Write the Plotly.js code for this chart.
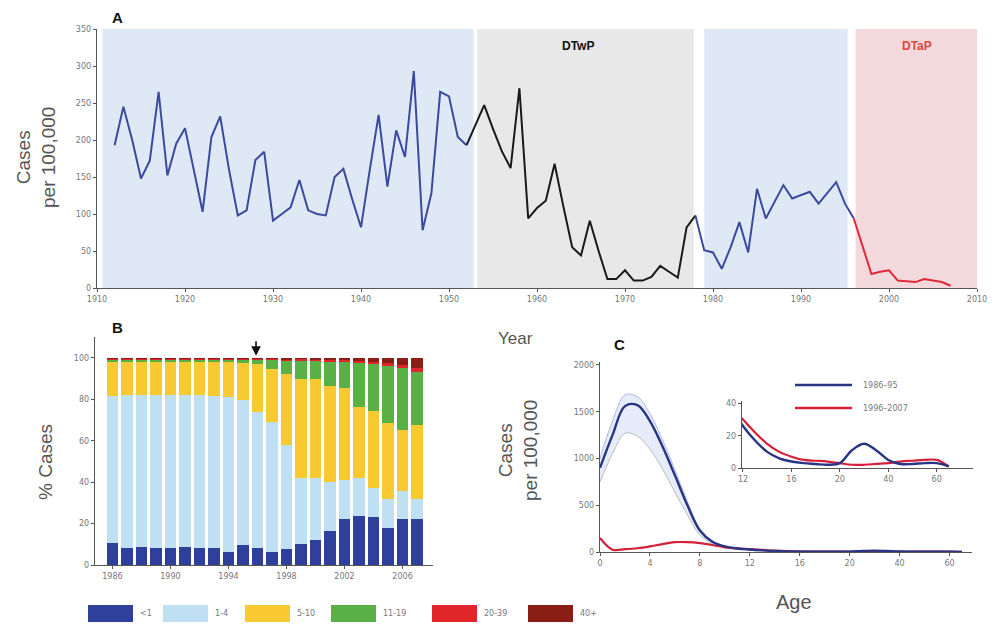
<!DOCTYPE html>
<html><head><meta charset="utf-8">
<script src="https://cdn.plot.ly/plotly-3.0.1.min.js"></script>
<style>html,body{margin:0;padding:0;background:#fff}#chart{width:995px;height:624px}</style>
</head><body><div id="chart"></div>
<script>
// ---------- Panel A data ----------
const yearsA = [];
for (let y = 1912; y <= 2007; y++) yearsA.push(y);
const casesA = [193,245,200,148,172,265,152,195,216,160,103,204,232,160,98,105,173,184,91,100,
  109,146,105,100,98,150,161,120,82,160,234,137,213,177,293,78,128,265,259,204,
  193,220,247,215,185,162,270,94,108,118,168,110,55,44,91,50,12,12,24,10,
  10,15,30,22,14,82,98,51,48,26,55,89,48,134,94,117,139,121,125,130,
  114,128,143,114,94,55,19,22,24,10,9,8,12,10,8,3];
const segmentBreaks = [1952, 1978, 1996];            // years where line colour changes
const segmentColors = ['#3b4a9e', '#1a1a1a', '#3b4a9e', '#e0283a'];
const periodStart = [1910.6, 1953.2, 1979.0, 1996.2];
const periodEnd   = [1952.8, 1977.8, 1995.3, 2010.1];
const periodColors = ['#dfe9f6', '#e8e8e8', '#dfe9f6', '#f3d9dc'];
const periodLabels = ['', 'DTwP', '', 'DTaP'];
const periodLabelColors = ['#111', '#111', '#111', '#e0453f'];
const yTicksA = [0,50,100,150,200,250,300,350];
const xTicksA = [1910,1920,1930,1940,1950,1960,1970,1980,1990,2000,2010];

// ---------- Panel B data ----------
const yearsB = [1986,1987,1988,1989,1990,1991,1992,1993,1994,1995,1996,1997,1998,1999,2000,2001,2002,2003,2004,2005,2006,2007];
const ageLt1  = [10.5,8.4,8.9,8.4,8.4,8.9,8,8,6.5,9.5,8.2,6.2,7.6,10,12,16.5,22,23.5,23,18,22,22];
const age1_4  = [71,73.6,73.1,73.6,73.6,73.1,74,73.5,74.5,70,65.8,62.8,50.4,32,30,23.5,19,18.5,14,14,13.5,10];
const age5_10 = [16.5,16,16,16,16,16,16,16.5,17,18,23,25.5,34,48,48,46.5,44.5,34.5,37.5,36.5,29.5,35.5];
const age11_19= [0.8,0.8,0.8,0.8,0.8,0.8,0.8,0.8,0.8,1.3,1.8,4.3,6.5,8.6,8.5,11.7,12.5,21,22.5,27.5,30,25.5];
const age20_39= [0.6,0.6,0.6,0.6,0.6,0.6,0.6,0.6,0.6,0.6,0.6,0.6,0.7,0.7,0.7,0.8,0.9,1.0,1.2,1.5,1.5,2];
const age40p  = [0.6,0.6,0.6,0.6,0.6,0.6,0.6,0.6,0.6,0.6,0.6,0.6,0.8,0.7,0.8,1.0,1.1,1.5,1.8,2.5,3.5,5];
const ageGroupNames = ['<1','1-4','5-10','11-19','20-39','40+'];
const ageGroupColors = ['#2f3f9c','#bfe0f3','#f8c930','#59b044','#e0252b','#8a1d16'];
const xTicksB = [1986,1990,1994,1998,2002,2006];
const yTicksB = [0,20,40,60,80,100];
const dtapYear = 1995.9;

// ---------- Panel C data ----------
const agesC = [0,1,2,3,4,5,6,7,8,9,10,11,12,13,14,15,16,17,18,19,20,25,30,35,40,45,50,55,60,65];
const rateEarly = [900,1250,1560,1570,1400,1130,820,500,230,110,60,38,26,17,10,6,4,3,2.5,2,3,11,15,11,5,2.5,2.5,3,3,1];
const rateEarlyHi = [1000,1400,1680,1660,1480,1200,880,540,250,120,65,40,28,18,11,7,5,4,3,3,4,13,17,13,6,3.5,3.5,4,4,1.5];
const rateEarlyLo = [750,1050,1270,1240,1100,890,640,400,180,90,50,34,23,15,9,5,3,2,2,1.5,2,9,13,9,4,2,2,2,2,0.5];
const rateLate  = [150,25,30,40,60,85,105,105,95,75,50,38,30,22,15,10,7,5,4.5,4,3,2,2,2.5,3,4,4.5,5,5,1];
const periodNamesC = ['1986–95','1996–2007'];
const xTickAgesC = [0,4,8,12,16,20,40,60];
const yTicksC = [0,500,1000,1500,2000];
const yTicksInset = [0,20,40];
const xTickAgesInset = [12,16,20,40,60];

// broken age scale: linear to 20, compressed 5x above
function agePos(a){ return a <= 20 ? a : 20 + (a - 20) / 5; }

const W = 995, H = 624;
const px = x => x / W;
const py = y => 1 - y / H;

const tickFont = {family: 'DejaVu Sans, Verdana, sans-serif', size: 8, color: '#777'};
const axisBase = {showgrid:false, zeroline:false, showline:true, linecolor:'#555', linewidth:1.3,
  ticks:'outside', ticklen:3, tickcolor:'#555', tickfont: tickFont, fixedrange:true};

const traces = [];

// Panel A line segments
const bounds = [yearsA[0], ...segmentBreaks, yearsA[yearsA.length-1]];
for (let s = 0; s < bounds.length - 1; s++) {
  const xs = [], ys = [];
  yearsA.forEach((yr, i) => { if (yr >= bounds[s] && yr <= bounds[s+1]) { xs.push(yr); ys.push(casesA[i]); } });
  traces.push({type:'scatter', mode:'lines', x: xs, y: ys, xaxis:'x', yaxis:'y',
    line:{color: segmentColors[s], width:2}, showlegend:false, hoverinfo:'skip'});
}

// Panel B stacked bars
const groups = [ageLt1, age1_4, age5_10, age11_19, age20_39, age40p];
groups.forEach((vals, g) => {
  traces.push({type:'bar', x: yearsB, y: vals, xaxis:'x2', yaxis:'y2', name: ageGroupNames[g],
    marker:{color: ageGroupColors[g], line:{width:0}}, showlegend:false, hoverinfo:'skip'});
});

// Panel C main + inset
const posC = agesC.map(agePos);
function addC(xa, ya, showBand){
  if (showBand) {
    traces.push({type:'scatter', mode:'lines', x: posC, y: rateEarlyLo, xaxis:xa, yaxis:ya,
      line:{color:'#b9bcbc', width:1, shape:'spline'}, showlegend:false, hoverinfo:'skip'});
    traces.push({type:'scatter', mode:'lines', x: posC, y: rateEarlyHi, xaxis:xa, yaxis:ya, fill:'tonexty',
      fillcolor:'rgba(160,180,235,0.25)', line:{color:'#aab8ee', width:1, shape:'spline'}, showlegend:false, hoverinfo:'skip'});
  }
  traces.push({type:'scatter', mode:'lines', x: posC, y: rateLate, xaxis:xa, yaxis:ya,
    line:{color:'#d4203a', width:2.2, shape:'spline'}, showlegend:false, hoverinfo:'skip'});
  traces.push({type:'scatter', mode:'lines', x: posC, y: rateEarly, xaxis:xa, yaxis:ya,
    line:{color:'#283584', width:2.4, shape:'spline'}, showlegend:false, hoverinfo:'skip'});
}
addC('x3','y3', true);
addC('x4','y4', false);

const shapes = [];
const annotations = [];
const labelOffset = [0, -0.8, 0, 0];

// Panel A shading
periodStart.forEach((s, i) => {
  shapes.push({type:'rect', xref:'x', yref:'y', x0:s, x1:periodEnd[i], y0:0, y1:350,
    fillcolor: periodColors[i], line:{width:0}, layer:'below'});
  if (periodLabels[i]) annotations.push({xref:'x', yref:'paper', x:(s + periodEnd[i]) / 2 + labelOffset[i], y: py(46),
    xanchor:'center', yanchor:'middle',
    text:'<b>' + periodLabels[i] + '</b>', showarrow:false, font:{family:'Liberation Sans, Arial', size:12, color: periodLabelColors[i]}});
});

// Panel B legend (custom swatches)
const legX = [88, 163, 245, 331, 432, 528];
ageGroupNames.forEach((nm, i) => {
  shapes.push({type:'rect', xref:'paper', yref:'paper', x0:px(legX[i]), x1:px(legX[i]+45), y0:py(622), y1:py(605),
    fillcolor: ageGroupColors[i], line:{width:0}});
  annotations.push({xref:'paper', yref:'paper', x:px(legX[i]+50), y:py(613.5), xanchor:'left', yanchor:'middle',
    text: nm, showarrow:false, font:{family:'DejaVu Sans, Verdana', size:8, color:'#777'}});
});

// Panel C legend
[['#283584', periodNamesC[0], 385], ['#d4203a', periodNamesC[1], 408]].forEach(([c, t, y]) => {
  shapes.push({type:'line', xref:'paper', yref:'paper', x0:px(795), x1:px(852), y0:py(y), y1:py(y), line:{color:c, width:2.4}});
  annotations.push({xref:'paper', yref:'paper', x:px(861), y:py(y), xanchor:'left', yanchor:'middle', text:t,
    showarrow:false, font:{family:'DejaVu Sans, Verdana', size:8, color:'#777'}});
});

// Panel letters and titles
const titleFont = {family:'Liberation Sans, Arial, sans-serif', size:19, color:'#555'};
const letterFont = {family:'Liberation Sans, Arial', size:15, color:'#111'};
const txt = (x, y, text, font, extra) => Object.assign({xref:'paper', yref:'paper', x:px(x), y:py(y), text, showarrow:false,
  xanchor:'center', yanchor:'middle', font}, extra || {});
annotations.push(
  txt(117, 17, '<b>A</b>', letterFont),
  txt(117, 327, '<b>B</b>', letterFont),
  txt(619, 344, '<b>C</b>', letterFont),
  txt(36, 158, 'Cases<br>per 100,000', titleFont, {textangle:-90}),
  txt(515, 338, 'Year', {...titleFont, size:17}),
  txt(45, 462, '% Cases', {...titleFont, size:19}, {textangle:-90}),
  txt(518, 451, 'Cases<br>per 100,000', titleFont, {textangle:-90}),
  txt(794, 602, 'Age', {...titleFont, size:20}),
  {xref:'x2', yref:'y2', x:dtapYear, y:101, ax:0, ay:-16, text:'', showarrow:true, arrowhead:2, arrowsize:1.2, arrowwidth:1.6, arrowcolor:'#111'}
);

const layout = {
  width: W, height: H, margin:{l:0, r:0, t:0, b:0}, paper_bgcolor:'#fff', plot_bgcolor:'rgba(0,0,0,0)',
  showlegend:false, barmode:'stack', bargap:0.22,
  font:{family:'Liberation Sans, Arial, sans-serif'},
  xaxis: {...axisBase, domain:[px(97), px(977)], range:[1910, 2010], tickvals:xTicksA, anchor:'y'},
  yaxis: {...axisBase, domain:[py(288), py(29)], range:[0, 350], tickvals:yTicksA, anchor:'x'},
  xaxis2:{...axisBase, domain:[px(95), px(433)], range:[1984.8, 2008.1], tickvals:xTicksB, anchor:'y2'},
  yaxis2:{...axisBase, domain:[py(565), py(337)], range:[0, 110.1], tickvals:yTicksB, anchor:'x2'},
  xaxis3:{...axisBase, domain:[px(600), px(972)], range:[0, 29.8], tickvals:xTickAgesC.map(agePos), ticktext:xTickAgesC.map(String), anchor:'y3'},
  yaxis3:{...axisBase, domain:[py(552), py(362)], range:[0, 2032], tickvals:yTicksC, anchor:'x3'},
  xaxis4:{...axisBase, domain:[px(742), px(973)], range:[11.92, 31], tickvals:xTickAgesInset.map(agePos), ticktext:xTickAgesInset.map(String), anchor:'y4'},
  yaxis4:{...axisBase, domain:[py(468), py(401)], range:[0, 41.5], tickvals:yTicksInset, anchor:'x4'},
  shapes, annotations
};

Plotly.newPlot('chart', traces, layout, {staticPlot:true});
</script>
</body></html>
